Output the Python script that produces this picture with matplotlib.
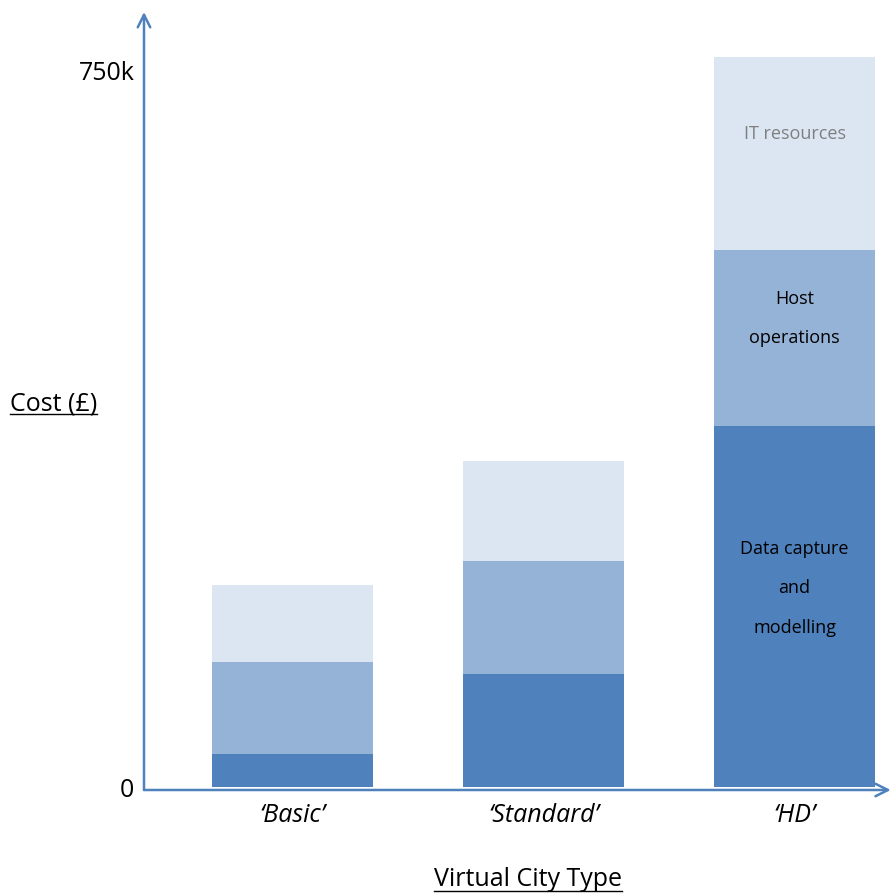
import numpy as np
import matplotlib
matplotlib.use('Agg')
import matplotlib.pyplot as plt
from matplotlib.lines import Line2D

# values in thousands of pounds
city_types = ['\u2018Basic\u2019', '\u2018Standard\u2019', '\u2018HD\u2019']
data_capture = [35, 118, 378]
host_ops = [96, 119, 184]
it_resources = [80, 104, 202]
ytick_vals = [0, 750]
ytick_labels = ['0', '750k']

DARK = '#4F81BD'
MID = '#95B3D7'
LIGHT = '#DCE6F2'
AXIS = '#4F81BD'

plt.rcParams['font.family'] = ['Open Sans', 'DejaVu Sans']

fig = plt.figure(figsize=(8.93, 8.94), dpi=100)
ax = fig.add_axes([144/893, (894-790)/894, (893-144)/893, (790-12)/894])

x = np.arange(len(city_types))
w = 0.64
b1 = np.array(data_capture)
b2 = b1 + np.array(host_ops)
ax.bar(x, data_capture, w, color=DARK, linewidth=0)
ax.bar(x, host_ops, w, bottom=b1, color=MID, linewidth=0)
ax.bar(x, it_resources, w, bottom=b2, color=LIGHT, linewidth=0)

ax.set_xlim(-0.592, 2.392)
ax.set_ylim(-3, 811)

for s in ax.spines.values():
    s.set_visible(False)

ax.set_xticks(x)
ax.set_xticklabels(city_types, fontsize=18, style='italic')
ax.set_yticks(ytick_vals)
ax.set_yticklabels(ytick_labels, fontsize=18)
ax.tick_params(axis='both', length=0)
ax.tick_params(axis='x', pad=9)
ax.tick_params(axis='y', pad=7)

# axis arrows
ax.annotate('', xy=(0, 1), xytext=(0, 0), xycoords='axes fraction',
            arrowprops=dict(arrowstyle='->,head_length=0.9,head_width=0.45',
                            color=AXIS, lw=1.8, shrinkA=0, shrinkB=0))
ax.annotate('', xy=(0.997, 0), xytext=(0, 0), xycoords='axes fraction',
            arrowprops=dict(arrowstyle='->,head_length=0.9,head_width=0.45',
                            color=AXIS, lw=1.8, shrinkA=0, shrinkB=0))

# labels inside the HD bar
hd = 2
ax.text(hd, b2[hd] + it_resources[hd] * 0.6, 'IT resources', ha='center', va='center',
        fontsize=13, color='#7F7F7F')
ax.text(hd, b1[hd] + host_ops[hd] * 0.61, 'Host\noperations', ha='center', va='center',
        fontsize=13, color='black', linespacing=2.55)
ax.text(hd, b1[hd] * 0.55, 'Data capture\nand\nmodelling', ha='center', va='center',
        fontsize=13, color='black', linespacing=2.55)

# axis titles, underlined
t1 = fig.text(10/893, 1 - 404/894, 'Cost (\u00a3)', ha='left', va='center', fontsize=18)
t2 = fig.text(528/893, 1 - 880/894, 'Virtual City Type', ha='center', va='center', fontsize=18)

fig.canvas.draw()
r = fig.canvas.get_renderer()
for t in (t1, t2):
    bb = t.get_window_extent(renderer=r)
    yb = (bb.y0 + 2) / fig.bbox.height
    fig.add_artist(Line2D([bb.x0 / fig.bbox.width, bb.x1 / fig.bbox.width], [yb, yb],
                          color='black', lw=1.0, transform=fig.transFigure))

fig.savefig('out.png', dpi=100)
